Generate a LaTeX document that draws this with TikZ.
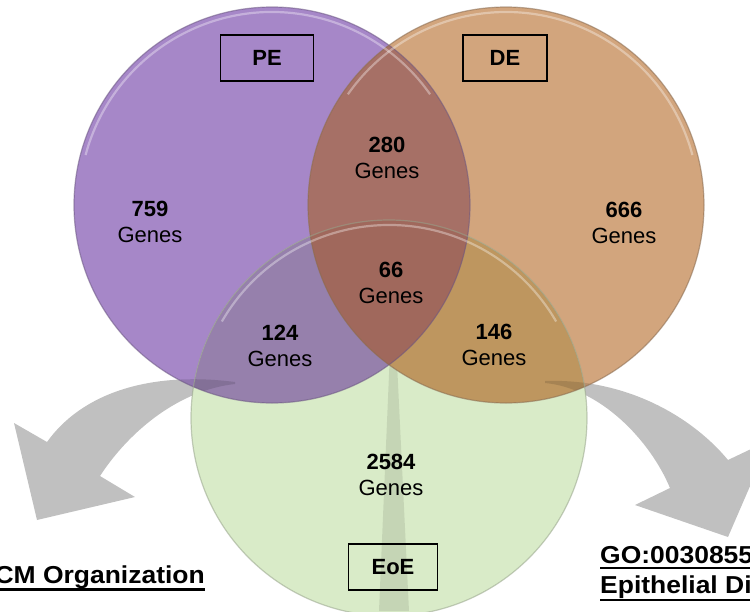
\documentclass[tikz,border=0pt]{standalone}
\usepackage{fontspec}
\usepackage{graphicx}
\setmainfont{Liberation Sans}
\usetikzlibrary{calc}
\definecolor{pecol}{RGB}{166,135,200}
\definecolor{decol}{RGB}{210,165,125}
\definecolor{eoecol}{RGB}{217,235,200}
\definecolor{pedecol}{RGB}{166,112,102}
\definecolor{peeoecol}{RGB}{150,128,172}
\definecolor{deeoecol}{RGB}{190,150,95}
\definecolor{allcol}{RGB}{160,104,92}
\definecolor{arrowgray}{RGB}{192,192,192}
\begin{document}
\begin{tikzpicture}[x=1pt,y=-1pt,
  lbl/.style={font=\fontsize{22}{26}\selectfont, align=center, inner sep=0pt},
  setbox/.style={draw, line width=1.8pt, minimum height=46pt, inner sep=0pt,
                 font=\fontsize{22}{26}\selectfont\bfseries},
  golbl/.style={font=\fontsize{24.5}{30}\selectfont\bfseries, inner sep=0pt},
  uline/.style={line width=2.2pt},
  rim/.style={line width=1.2pt, opacity=.55},
  shine/.style={white, opacity=.35, line width=2.2pt}]
\useasboundingbox (0,0) rectangle (750,611);
\clip (0,0) rectangle (750,611);
\def\R{198pt}
\coordinate (cPE) at (272,205);
\coordinate (cDE) at (506,205);
\coordinate (cEo) at (389,418);
\def\leftarrowpath{(235,382) .. controls (150,371) and (82,393) .. (47,442) -- (14,423) -- (37,520) -- (135,497) -- (100,476) .. controls (130,430) and (180,390) .. (235,384) -- cycle}
\def\rightarrowpath{(545,381) .. controls (630,378) and (695,420) .. (728,460) -- (770,440) -- (728,537) -- (635,505) -- (670,488) .. controls (650,440) and (600,388) .. (545,383) -- cycle}
% gray arrows (behind the circles)
\fill[arrowgray] \leftarrowpath;
\fill[arrowgray] \rightarrowpath;
% circles
\fill[pecol] (cPE) circle[radius=\R];
\fill[decol] (cDE) circle[radius=\R];
\fill[eoecol] (cEo) circle[radius=\R];
% downward wedge seen through the green circle
\begin{scope}
  \clip (cEo) circle[radius=\R];
  \fill[black, opacity=.09] (393,280) -- (409,611) -- (379,611) -- cycle;
\end{scope}
% overlaps
\begin{scope}
  \clip (cPE) circle[radius=\R];
  \fill[peeoecol] (cEo) circle[radius=\R];
\end{scope}
\begin{scope}
  \clip (cDE) circle[radius=\R];
  \fill[deeoecol] (cEo) circle[radius=\R];
\end{scope}
\begin{scope}
  \clip (cPE) circle[radius=\R];
  \fill[pedecol] (cDE) circle[radius=\R];
\end{scope}
\begin{scope}
  \clip (cPE) circle[radius=\R];
  \clip (cDE) circle[radius=\R];
  \fill[allcol] (cEo) circle[radius=\R];
\end{scope}
% arrow tails seen through the circles
\begin{scope}
  \clip (cPE) circle[radius=\R];
  \fill[black, opacity=.12] \leftarrowpath;
\end{scope}
\begin{scope}
  \clip (cDE) circle[radius=\R];
  \fill[black, opacity=.12] \rightarrowpath;
\end{scope}
% rims and highlights
\draw[rim, pecol!65!black] (cPE) circle[radius=\R];
\draw[rim, decol!65!black] (cDE) circle[radius=\R];
\draw[rim, eoecol!70!black] (cEo) circle[radius=\R];
\draw[shine] ($(cPE)+(165:193pt)$) arc[start angle=165, end angle=35, radius=193pt];
\draw[shine] ($(cDE)+(145:193pt)$) arc[start angle=145, end angle=15, radius=193pt];
\draw[shine] ($(cEo)+(150:193pt)$) arc[start angle=150, end angle=30, radius=193pt];
% set names
\node[setbox, minimum width=93pt] (pe) at (267,58) {PE};
\node[setbox, minimum width=84pt] (de) at (505,58) {DE};
\node[setbox, minimum width=89pt] (eoe) at (393,567) {EoE};
% counts
\node[lbl] (n759) at (150,222) {\textbf{759}\\Genes};
\node[lbl] (n280) at (387,158) {\textbf{280}\\Genes};
\node[lbl] (n666) at (624,223) {\textbf{666}\\Genes};
\node[lbl] (n66) at (391,283) {\textbf{66}\\Genes};
\node[lbl] (n124) at (280,346) {\textbf{124}\\Genes};
\node[lbl] (n146) at (494,345) {\textbf{146}\\Genes};
\node[lbl] (n2584) at (391,475) {\textbf{2584}\\Genes};
% GO term captions
\node[golbl, anchor=base east] (ecm) at (205,583) {\scalebox{1.08}[1]{ECM Organization}};
\node[golbl, anchor=base west] (go1) at (600,563) {\scalebox{1.08}[1]{GO:0030855}};
\node[golbl, anchor=base west] (go2) at (600,593) {\scalebox{1.08}[1]{Epithelial Differentiation}};
\draw[uline] ([yshift=-6.5pt]ecm.base west) -- ([yshift=-6.5pt]ecm.base east);
\draw[uline] ([yshift=-5pt]go1.base west) -- ([yshift=-5pt]go1.base east);
\draw[uline] ([yshift=-7pt]go2.base west) -- ([yshift=-7pt]go2.base east);
\end{tikzpicture}
\end{document}
